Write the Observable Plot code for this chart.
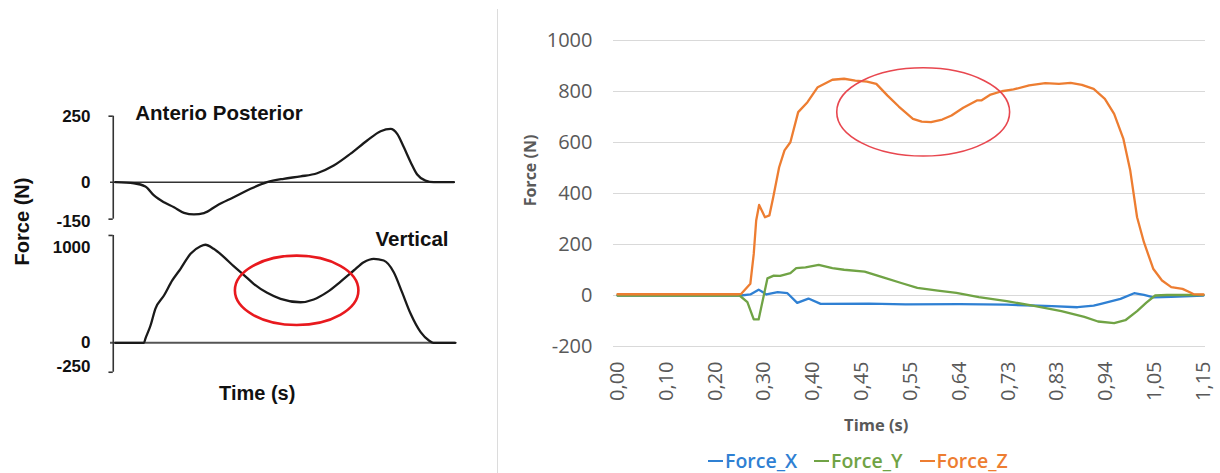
<!DOCTYPE html>
<html>
<head>
<meta charset="utf-8">
<script src="https://cdn.jsdelivr.net/npm/d3@7"></script>
<script src="https://cdn.jsdelivr.net/npm/@observablehq/plot@0.6"></script>
<style>
  html, body { margin: 0; padding: 0; background: #fff; }
  #wrap { position: relative; width: 1220px; height: 473px; overflow: hidden; background: #fff; }
  .abs { position: absolute; }
  #legend { position: absolute; top: 448px; left: 708px; display: flex; gap: 17px;
            font-family: "Open Sans", sans-serif; font-size: 19.5px; font-weight: 600; line-height: 26px; white-space: nowrap; }
  #legend span.item { display: inline-flex; align-items: center; }
  #legend span.sw { display: inline-block; width: 15px; height: 2.5px; margin-right: 2px; }
</style>
</head>
<body>
<div id="wrap">
  <div class="abs" style="left:497px;top:9px;width:1px;height:464px;background:#dcdcdc;"></div>
  <div id="leftTop" class="abs" style="left:0;top:0;"></div>
  <div id="leftBottom" class="abs" style="left:0;top:160px;"></div>
  <div id="right" class="abs" style="left:500px;top:0;"></div>
  <div id="legend"></div>
</div>
<script>
// ---------- Left panel (normalised stance time 0..100) ----------
const apTime = [1.4, 6.8, 10.1, 12.6, 15.5, 18.4, 21.3, 24.2, 27.1, 30.9, 35.7, 40.6, 45.4, 50.2, 55.1, 59.9, 64.7, 69.6, 74.4, 78.3, 81.2, 83.1, 85.0, 87.0, 88.9, 91.3, 93.7, 99.5];
const apForce = [0, -4, -16, -50, -76, -95, -116, -122, -117, -88, -57, -25, 0, 13, 22, 34, 63, 108, 158, 193, 202, 183, 133, 76, 29, 6, 0, 0];
const vtTime = [1.4, 9.7, 10.1, 11.6, 13.0, 15.5, 17.9, 20.3, 23.2, 26.1, 27.5, 29.9, 32.9, 35.7, 38.6, 41.5, 45.4, 49.3, 55.1, 58.9, 62.8, 66.7, 70.5, 73.4, 76.3, 79.2, 82.1, 84.5, 87.0, 89.9, 92.3, 93.6, 100];
const vtForce = [0, 0, 42, 182, 358, 498, 656, 779, 937, 1017, 1032, 989, 901, 806, 716, 621, 526, 463, 427, 456, 533, 645, 761, 848, 884, 866, 743, 533, 305, 112, 24, 0, 0];
const apTicks = [250, 0, -150];
const vtTicks = [1000, 0, -250];
const apAxisExtent = [-140, 250];
const vtAxisExtent = [-310, 1130];
const leftAxisAt = [0.8];
const leftHighlight = { centre: [54.1, 547], radius: [17.9, 365] };

// ---------- Right panel (sample categories) ----------
const xLabels = ["0,00", "0,10", "0,20", "0,30", "0,40", "0,45", "0,55", "0,64", "0,73", "0,83", "0,94", "1,05", "1,15"];
const yTicks = [-200, 0, 200, 400, 600, 800, 1000];
const forceXPos = [0, 2.53, 2.72, 2.89, 3.05, 3.28, 3.48, 3.68, 3.91, 4.16, 5.15, 5.9, 7.0, 7.97, 8.9, 9.42, 9.75, 9.9, 10.3, 10.58, 10.78, 10.98, 11.34, 12];
const forceX = [0, 0, 4, 23, 4, 13, 9, -29, -12, -33, -32, -35, -34, -36, -42, -46, -40, -33, -13, 9, 2, -7, -5, 0];
const forceYPos = [0, 2.5, 2.66, 2.79, 2.89, 3.07, 3.2, 3.33, 3.54, 3.66, 3.85, 4.12, 4.40, 4.64, 5.06, 5.44, 5.81, 6.14, 6.56, 6.94, 7.40, 7.97, 8.53, 9.09, 9.56, 9.84, 10.17, 10.40, 10.64, 10.83, 11.01, 11.25, 12];
const forceY = [0, 0, -26, -94, -94, 67, 78, 77, 88, 107, 110, 120, 107, 101, 94, 71, 49, 30, 19, 10, -6, -22, -41, -61, -84, -102, -108, -97, -61, -28, 0, 2, 2];
const forceZPos = [0, 2.48, 2.53, 2.72, 2.79, 2.84, 2.9, 3.02, 3.11, 3.19, 3.31, 3.42, 3.54, 3.70, 3.89, 4.10, 4.40, 4.64, 4.87, 5.11, 5.30, 5.53, 5.76, 6.05, 6.23, 6.42, 6.65, 6.84, 7.08, 7.36, 7.45, 7.64, 7.87, 8.11, 8.43, 8.76, 9.04, 9.28, 9.51, 9.75, 9.98, 10.17, 10.36, 10.50, 10.64, 10.78, 10.97, 11.15, 11.34, 11.57, 11.72, 11.80, 12];
const forceZ = [5, 5, 6, 46, 163, 294, 355, 307, 314, 386, 503, 569, 601, 719, 758, 817, 846, 850, 843, 839, 830, 784, 741, 693, 682, 680, 690, 706, 736, 765, 765, 788, 801, 808, 824, 833, 830, 834, 826, 810, 771, 712, 614, 490, 307, 209, 105, 59, 33, 26, 13, 5, 4];
const rightHighlight = { centre: [6.27, 718], radius: [1.77, 173] };
const seriesNames = ["Force_X", "Force_Y", "Force_Z"];
const seriesColors = ["#2f80d3", "#70a345", "#ed7d31"];

const zip = (xs, ys) => xs.map((x, i) => ({ x, y: ys[i] }));

function ellipseMark(h, stroke, strokeWidth) {
  return (index, scales) => {
    const cx = scales.x(h.centre[0]), cy = scales.y(h.centre[1]);
    const rx = Math.abs(scales.x(h.centre[0] + h.radius[0]) - cx);
    const ry = Math.abs(scales.y(h.centre[1] + h.radius[1]) - cy);
    const el = document.createElementNS("http://www.w3.org/2000/svg", "ellipse");
    el.setAttribute("cx", cx); el.setAttribute("cy", cy);
    el.setAttribute("rx", rx); el.setAttribute("ry", ry);
    el.setAttribute("fill", "none"); el.setAttribute("stroke", stroke);
    el.setAttribute("stroke-width", strokeWidth);
    return el;
  };
}

const leftStyle = { background: "transparent", fontFamily: "'Liberation Sans', Arial, sans-serif", fontSize: "17px", fontWeight: "bold", color: "#111", overflow: "visible" };
const titleOpts = (dx, dy, extra = {}) => ({ frameAnchor: "top-left", dx, dy, text: d => d, textAnchor: "middle", lineAnchor: "middle", fontSize: 20.5, fontWeight: "bold", fill: "#111", ...extra });

// Top-left: Anterio Posterior
const leftTop = Plot.plot({
  width: 497, height: 228,
  marginLeft: 110, marginRight: 42, marginTop: 0, marginBottom: 0,
  style: leftStyle,
  x: { domain: [0, 100], range: [110, 455], axis: null },
  y: { domain: [-150, 250], range: [221.3, 115.7], ticks: apTicks, tickSize: 0, tickPadding: 20, tickFormat: d => String(d), label: null },
  marks: [
    Plot.ruleY([0], { stroke: "#333", strokeWidth: 1.6 }),
    Plot.ruleX(leftAxisAt, { y1: apAxisExtent[0], y2: apAxisExtent[1], stroke: "#333", strokeWidth: 1.6 }),
    Plot.ruleY(apAxisExtent, { x1: -0.45, x2: leftAxisAt[0], stroke: "#333", strokeWidth: 1.6 }),
    Plot.line(zip(apTime, apForce), { x: "x", y: "y", stroke: "#1a1a1a", strokeWidth: 2.3, curve: "monotone-x" }),
    Plot.text(["Anterio Posterior"], titleOpts(108.5, 112.7))
  ]
});
document.getElementById("leftTop").appendChild(leftTop);

// Bottom-left: Vertical
const leftBottom = Plot.plot({
  width: 497, height: 313,
  marginLeft: 110, marginRight: 42, marginTop: 0, marginBottom: 0,
  style: leftStyle,
  x: { domain: [0, 100], range: [110, 455], axis: null },
  y: { domain: [-250, 1000], range: [206.05, 87.3], ticks: vtTicks, tickSize: 0, tickPadding: 20, tickFormat: d => String(d), label: null },
  marks: [
    Plot.ruleY([0], { stroke: "#555", strokeWidth: 2 }),
    Plot.ruleX(leftAxisAt, { y1: vtAxisExtent[0], y2: vtAxisExtent[1], stroke: "#333", strokeWidth: 1.6 }),
    Plot.ruleY(vtAxisExtent, { x1: -0.45, x2: leftAxisAt[0], stroke: "#333", strokeWidth: 1.6 }),
    Plot.line(zip(vtTime, vtForce), { x: "x", y: "y", stroke: "#1a1a1a", strokeWidth: 2.3, curve: "monotone-x" }),
    ellipseMark(leftHighlight, "#e8191e", 2.6),
    Plot.text(["Vertical"], titleOpts(301.5, 79)),
    Plot.text(["Force (N)"], titleOpts(-88, 61, { rotate: -90, fontSize: 20 })),
    Plot.text(["Time (s)"], titleOpts(146.7, 233, { fontSize: 20 }))
  ]
});
document.getElementById("leftBottom").appendChild(leftBottom);

// Right: Excel-style force chart
const right = Plot.plot({
  width: 720, height: 440,
  marginLeft: 113, marginRight: 15, marginTop: 40, marginBottom: 94,
  style: { background: "transparent", fontFamily: "'Open Sans', sans-serif", fontSize: "20px", color: "#595959", overflow: "visible" },
  x: { domain: [0, xLabels.length - 1], range: [117, 703], ticks: xLabels.map((_, i) => i), tickFormat: i => xLabels[i], tickRotate: -90, tickSize: 0, tickPadding: 15, label: null },
  y: { domain: [-200, 1000], range: [346, 40], ticks: yTicks, tickSize: 0, tickPadding: 21, tickFormat: d => String(d), label: null },
  marks: [
    Plot.ruleY(yTicks, { stroke: "#d9d9d9", strokeWidth: 1 }),
    Plot.line(zip(forceXPos, forceX), { x: "x", y: "y", stroke: seriesColors[0], strokeWidth: 2.3 }),
    Plot.line(zip(forceYPos, forceY), { x: "x", y: "y", stroke: seriesColors[1], strokeWidth: 2.3 }),
    Plot.line(zip(forceZPos, forceZ), { x: "x", y: "y", stroke: seriesColors[2], strokeWidth: 2.3 }),
    ellipseMark(rightHighlight, "#e8474f", 1.6),
    Plot.text(["Force (N)"], { frameAnchor: "left", dx: -83, dy: -23, rotate: -90, text: d => d, textAnchor: "middle", lineAnchor: "middle", fontSize: 16, fontWeight: "bold", fill: "#595959" }),
    Plot.text(["Time (s)"], { frameAnchor: "bottom", dx: -33.3, dy: 79, text: d => d, textAnchor: "middle", lineAnchor: "middle", fontSize: 16.5, fontWeight: "bold", fill: "#595959" })
  ]
});
document.getElementById("right").appendChild(right);

// Legend below the right chart
const legend = d3.select("#legend");
seriesNames.forEach((name, i) => {
  const item = legend.append("span").attr("class", "item").style("color", seriesColors[i]);
  item.append("span").attr("class", "sw").style("background", seriesColors[i]);
  item.append("span").text(name);
});
</script>
</body>
</html>
